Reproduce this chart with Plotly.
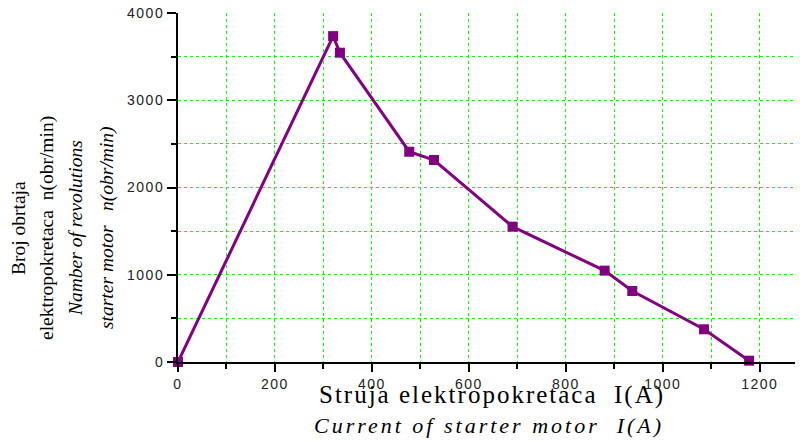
import plotly.graph_objects as go

# Data
current_A = [0, 320, 334, 477, 528, 690, 880, 937, 1085, 1178]
speed_rpm = [0, 3735, 3545, 2410, 2315, 1551, 1047, 814, 375, 15]

x_tickvals = [0, 200, 400, 600, 800, 1000, 1200]
x_ticklabels = ["0", "200", "400", "600", "800", "1000", "1200"]
y_tickvals = [0, 1000, 2000, 3000, 4000]
y_ticklabels = ["0", "1000", "2000", "3000", "4000"]

ytitle_lines = ["Broj obrtaja", "elektropokretaca  n(obr/min)",
                "<i>Namber of revolutions</i>", "<i>starter motor   n(obr/min)</i>"]
xtitle_lines = ["Struja elektropokretaca  I(A)", "<i>Current of starter motor  I(A)</i>"]

# page offset of the default HTML body margin
OFF = 8
W, H = 803 - OFF, 442 - OFF
L, R, T = 178 - OFF, 2, 13 - OFF
B = H - (362 - OFF)
PW, PH = W - L - R, H - T - B
XMAX = 1285

purple = "#800080"
grid = "#00ff00"

def sp(t, s):
    return f'<span style="letter-spacing:{s}px">{t}</span>'

def px_x(px):
    return (px - 178) / PW

def px_y(py):
    return (362 - py) / PH

fig = go.Figure()
fig.add_trace(go.Scatter(
    x=current_A, y=speed_rpm, mode="lines+markers",
    line=dict(color=purple, width=3),
    marker=dict(symbol="square", size=10, color=purple, line=dict(width=0)),
    cliponaxis=False, showlegend=False,
))

tickfont = dict(family="Liberation Sans, Arial, sans-serif", size=14, color="#222")

fig.update_layout(
    width=W, height=H,
    margin=dict(l=L, r=R, t=T, b=B, pad=0, autoexpand=False),
    paper_bgcolor="white", plot_bgcolor="white",
    xaxis=dict(
        range=[0, XMAX], showgrid=False, zeroline=False, automargin=False,
        showline=True, linecolor="black", linewidth=2,
        ticks="outside", ticklen=8, tickwidth=1.5, tickcolor="black",
        tickvals=x_tickvals, ticktext=[sp(t, 1.5) for t in x_ticklabels],
        tickfont=tickfont, ticklabeloverflow="allow",
        minor=dict(dtick=100, tick0=0, ticks="outside", ticklen=5, tickwidth=1.5,
                   tickcolor="black", showgrid=True, gridcolor=grid,
                   griddash="dot", gridwidth=1),
    ),
    yaxis=dict(
        range=[0, 4000], showgrid=False, zeroline=False, automargin=False,
        showline=True, linecolor="black", linewidth=2,
        ticks="outside", ticklen=9, tickwidth=1.5, tickcolor="black",
        tickvals=y_tickvals, ticktext=[sp(t, 1.5) for t in y_ticklabels],
        tickfont=tickfont, ticklabeloverflow="allow",
        minor=dict(dtick=500, tick0=0, ticks="outside", ticklen=5, tickwidth=1.5,
                   tickcolor="black", showgrid=True, gridcolor=grid,
                   griddash="dot", gridwidth=1),
    ),
    xaxis2=dict(
        overlaying="x", side="top", anchor="y", range=[0, XMAX], automargin=False,
        showgrid=False, zeroline=False, showline=True, linecolor="black", linewidth=1.5,
        ticks="inside", ticklen=7, tickwidth=1.5, tickcolor="black",
        dtick=100, tick0=0, showticklabels=False,
    ),
    yaxis2=dict(
        overlaying="y", side="right", anchor="x", range=[0, 4000], automargin=False,
        showgrid=False, zeroline=False, showline=True, linecolor="black", linewidth=1.5,
        ticks="inside", ticklen=5, tickwidth=1.5, tickcolor="black",
        dtick=1000, tick0=0, showticklabels=False,
    ),
)

serif = "Liberation Serif, Times New Roman, serif"

# y-axis title lines (rotated); positions in reference page pixels
ycenters_px = [18, 47, 75, 107]
for txt, px in zip(ytitle_lines, ycenters_px):
    fig.add_annotation(
        text=txt, textangle=-90, showarrow=False,
        xref="paper", yref="paper",
        x=px_x(px), y=px_y(228),
        xanchor="center", yanchor="middle",
        font=dict(family=serif, size=19.5, color="black"),
    )

# x-axis title lines
fig.add_annotation(
    text=sp(xtitle_lines[0], 2), showarrow=False,
    xref="paper", yref="paper",
    x=px_x(492), y=px_y(395),
    xanchor="center", yanchor="middle",
    font=dict(family=serif, size=25, color="black"),
)
fig.add_annotation(
    text=sp(xtitle_lines[1], 3), showarrow=False,
    xref="paper", yref="paper",
    x=px_x(489), y=px_y(425),
    xanchor="center", yanchor="middle",
    font=dict(family=serif, size=22, color="black"),
)

fig.write_html("out.html")
